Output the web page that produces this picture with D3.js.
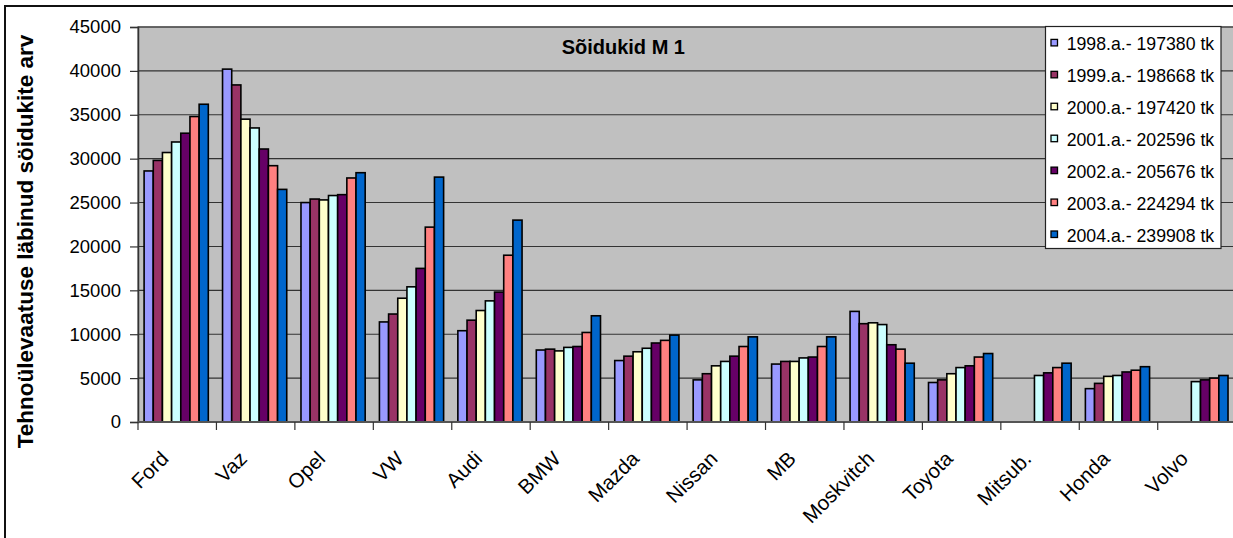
<!DOCTYPE html>
<html>
<head>
<meta charset="utf-8">
<script src="https://cdn.jsdelivr.net/npm/d3@7/dist/d3.min.js"></script>
<style>
  html, body { margin: 0; padding: 0; background: #fff; }
  svg { display: block; font-family: "Liberation Sans", Arial, sans-serif; }
</style>
</head>
<body>
<svg id="chart" width="1233" height="538"></svg>
<script>
// ---- Data ----
const categories = ["Ford", "Vaz", "Opel", "VW", "Audi", "BMW", "Mazda", "Nissan", "MB", "Moskvitch", "Toyota", "Mitsub.", "Honda", "Volvo"];
const seriesNames = ["1998.a.- 197380 tk", "1999.a.- 198668 tk", "2000.a.- 197420 tk", "2001.a.- 202596 tk", "2002.a.- 205676 tk", "2003.a.- 224294 tk", "2004.a.- 239908 tk"];
const v1998 = [28600, 40200, 25000, 11400, 10400, 8200, 7000, 4800, 6600, 12600, 4500, null, 3800, null];
const v1999 = [29800, 38400, 25400, 12300, 11600, 8300, 7500, 5500, 6900, 11200, 4800, null, 4400, null];
const v2000 = [30700, 34500, 25300, 14100, 12700, 8100, 8000, 6400, 6900, 11300, 5500, null, 5200, null];
const v2001 = [31900, 33500, 25800, 15400, 13800, 8500, 8400, 6900, 7300, 11100, 6200, 5300, 5300, 4600];
const v2002 = [32900, 31100, 25900, 17500, 14800, 8600, 9000, 7500, 7400, 8800, 6400, 5600, 5700, 4800];
const v2003 = [34800, 29200, 27800, 22200, 19000, 10200, 9300, 8600, 8600, 8300, 7400, 6200, 5900, 5000];
const v2004 = [36200, 26500, 28400, 27900, 23000, 12100, 9900, 9700, 9700, 6700, 7800, 6700, 6300, 5300];
const seriesValues = [v1998, v1999, v2000, v2001, v2002, v2003, v2004];
const colors = ["#9999FF", "#993366", "#FFFFCC", "#CCFFFF", "#660066", "#FF8080", "#0066CC"];
const yTicks = [0, 5000, 10000, 15000, 20000, 25000, 30000, 35000, 40000, 45000];
const chartTitle = "Sõidukid M 1";
const yTitle = "Tehnoülevaatuse läbinud söidukite arv";

// ---- Layout ----
const svg = d3.select("#chart");
const plot = { left: 138, top: 27, bottom: 422, catW: 78.44 };
plot.right = plot.left + plot.catW * categories.length;

const x = d3.scaleBand().domain(categories).range([plot.left, plot.right]).padding(0);
const x1 = d3.scaleBand().domain(d3.range(seriesNames.length)).range([6.1, 70.3]).padding(0);
const y = d3.scaleLinear().domain([0, 45000]).range([plot.bottom, plot.top]);

// Outer chart border
svg.append("rect").attr("x", 5).attr("y", 6).attr("width", 1300).attr("height", 600)
  .attr("fill", "#fff").attr("stroke", "#111").attr("stroke-width", 2);

// Plot area
svg.append("rect").attr("x", plot.left).attr("y", plot.top)
  .attr("width", plot.right - plot.left).attr("height", plot.bottom - plot.top)
  .attr("fill", "#C0C0C0").attr("stroke", "#808080").attr("stroke-width", 1.5);

// Gridlines
svg.append("g").selectAll("line").data(yTicks.filter(t => t > 0)).join("line")
  .attr("x1", plot.left).attr("x2", plot.right)
  .attr("y1", d => y(d)).attr("y2", d => y(d))
  .attr("stroke", "#333").attr("stroke-width", 1.1);

// Bars
const groups = svg.append("g").selectAll("g").data(seriesValues).join("g")
  .attr("fill", (d, i) => colors[i]);
groups.each(function(vals, si) {
  d3.select(this).selectAll("rect")
    .data(vals.map((v, ci) => ({ v, c: categories[ci] })).filter(d => d.v != null))
    .join("rect")
    .attr("x", d => x(d.c) + x1(si))
    .attr("width", x1.bandwidth())
    .attr("y", d => y(d.v))
    .attr("height", d => y(0) - y(d.v))
    .attr("stroke", "#000").attr("stroke-width", 1.6);
});

// Y axis
const yAxis = d3.axisLeft(y).tickValues(yTicks).tickSize(8).tickPadding(9).tickFormat(d3.format("d"));
const yg = svg.append("g").attr("transform", `translate(${plot.left},0)`).call(yAxis);
yg.select(".domain").attr("stroke", "#333").attr("stroke-width", 1.5);
yg.selectAll(".tick line").attr("stroke", "#333").attr("stroke-width", 1.2);
yg.selectAll("text").attr("font-size", "18.5px").attr("fill", "#000")
  .attr("font-family", "'Liberation Sans', Arial, sans-serif");

// X axis: ticks at category boundaries
const boundaries = categories.map(c => x(c)).concat([plot.right]);
svg.append("line").attr("x1", plot.left).attr("x2", plot.right)
  .attr("y1", plot.bottom).attr("y2", plot.bottom)
  .attr("stroke", "#555").attr("stroke-width", 1.8);
svg.append("g").selectAll("line").data(boundaries).join("line")
  .attr("x1", d => d).attr("x2", d => d)
  .attr("y1", plot.bottom).attr("y2", plot.bottom + 8)
  .attr("stroke", "#333").attr("stroke-width", 1.2);

// X labels
svg.append("g").selectAll("text").data(categories).join("text")
  .attr("transform", d => `translate(${x(d) + x.bandwidth() / 2 - 7.5},460) rotate(-45)`)
  .attr("text-anchor", "end")
  .attr("font-size", "20.5px")
  .attr("fill", "#000")
  .text(d => d);

// Y title
svg.append("text")
  .attr("transform", "translate(33,241.5) rotate(-90)")
  .attr("text-anchor", "middle")
  .attr("font-size", "22.5px").attr("font-weight", "bold")
  .text(yTitle);

// Chart title
svg.append("text").attr("x", 623.3).attr("y", 54.3)
  .attr("text-anchor", "middle")
  .attr("font-size", "20px").attr("font-weight", "bold")
  .text(chartTitle);

// Legend
const lg = svg.append("g");
lg.append("rect").attr("x", 1045.5).attr("y", 26.5).attr("width", 175.5).attr("height", 222)
  .attr("fill", "#fff").attr("stroke", "#222").attr("stroke-width", 1.2);
const ly = d3.scalePoint().domain(d3.range(seriesNames.length)).range([42.7, 234.3]);
const items = lg.selectAll("g.item").data(seriesNames).join("g").attr("class", "item")
  .attr("transform", (d, i) => `translate(0,${ly(i)})`);
items.append("rect").attr("x", 1051).attr("y", -3.3).attr("width", 6.5).attr("height", 6.5)
  .attr("fill", (d, i) => colors[i]).attr("stroke", "#000").attr("stroke-width", 1.3);
items.append("text").attr("x", 1066.7).attr("y", 7.2)
  .attr("font-size", "17.7px").attr("fill", "#000")
  .text(d => d);
</script>
</body>
</html>
